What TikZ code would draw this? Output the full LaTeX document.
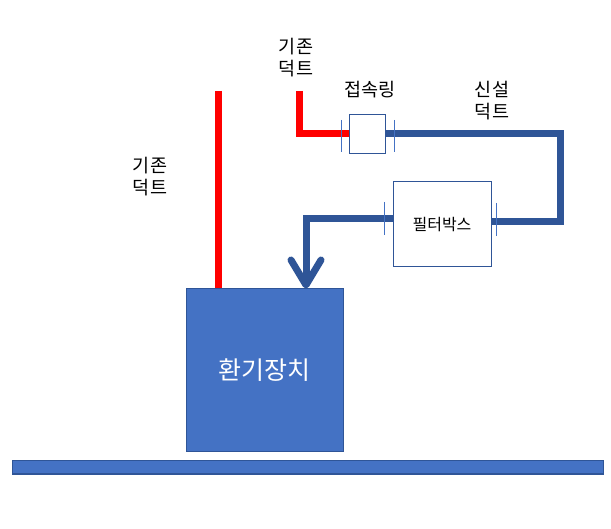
\documentclass[tikz,border=0pt]{standalone}
\usepackage{fontspec}
\newfontfamily\kr{Noto Sans CJK KR}
\usetikzlibrary{arrows.meta}
\definecolor{pipeblue}{HTML}{2F5597}
\definecolor{boxblue}{HTML}{4472C4}
\definecolor{ductred}{HTML}{FF0000}
\tikzset{
  box/.style={draw=pipeblue, line width=1pt, inner sep=0pt},
  newduct/.style={draw=pipeblue, line width=7pt},
  oldduct/.style={draw=ductred, line width=7pt},
  joint/.style={draw=boxblue, line width=1.2pt},
  lbl/.style={font=\kr\fontsize{18.5}{22}\selectfont, align=center, inner sep=0pt}
}
\begin{document}
\begin{tikzpicture}[x=1pt,y=-1pt]
      \useasboundingbox (0,0) rectangle (611,529);
      \draw
        (367,134) node[box, minimum width=36pt, minimum height=39pt] (ring){}
        (442,224.5) node[box, minimum width=98pt, minimum height=85pt,
          font=\kr\fontsize{16}{19}\selectfont] (filter){필터박스}
        (264.5,370.5) node[box, fill=boxblue, minimum width=157pt, minimum height=163pt,
          text=white, font=\kr\fontsize{25}{29}\selectfont] (unit){환기장치}
        (307.5,467.5) node[box, fill=boxblue, minimum width=591pt, minimum height=13pt] (floor){};
      \node[lbl] (oldlbl1) at (150,177) {기존\\덕트};
      \node[lbl] (oldlbl2) at (296,58) {기존\\덕트};
      \node[lbl] (ringlbl) at (370,90) {접속링};
      \node[lbl] (newlbl) at (492,101) {신설\\덕트};
      \coordinate (oldtop1) at (218,91);
      \coordinate (oldtop2) at (299.5,91);
      % ducts
      \draw[oldduct] (oldtop1) -- (oldtop1 |- unit.north);
      \draw[oldduct] (oldtop2) |- (ring.west);
      \draw[newduct] (ring.east) -- ++(175,0) |- ([yshift=3pt]filter.east);
      \draw[newduct, -{Straight Barb[length=25pt, width=30pt, round]}]
        ([yshift=5.5pt]filter.west) -| ([xshift=41.5pt]unit.north);
      % joints
      \begin{scope}[joint]
        \draw ([xshift=-7pt,yshift=14pt]ring.west) -- ++(0,32);
        \draw ([xshift=9pt,yshift=14pt]ring.east) -- ++(0,32);
        \draw ([xshift=-8pt,yshift=22.5pt]filter.west) -- ++(0,33);
        \draw ([xshift=5pt,yshift=21.5pt]filter.east) -- ++(0,33);
      \end{scope}
    \end{tikzpicture}
\end{document}
